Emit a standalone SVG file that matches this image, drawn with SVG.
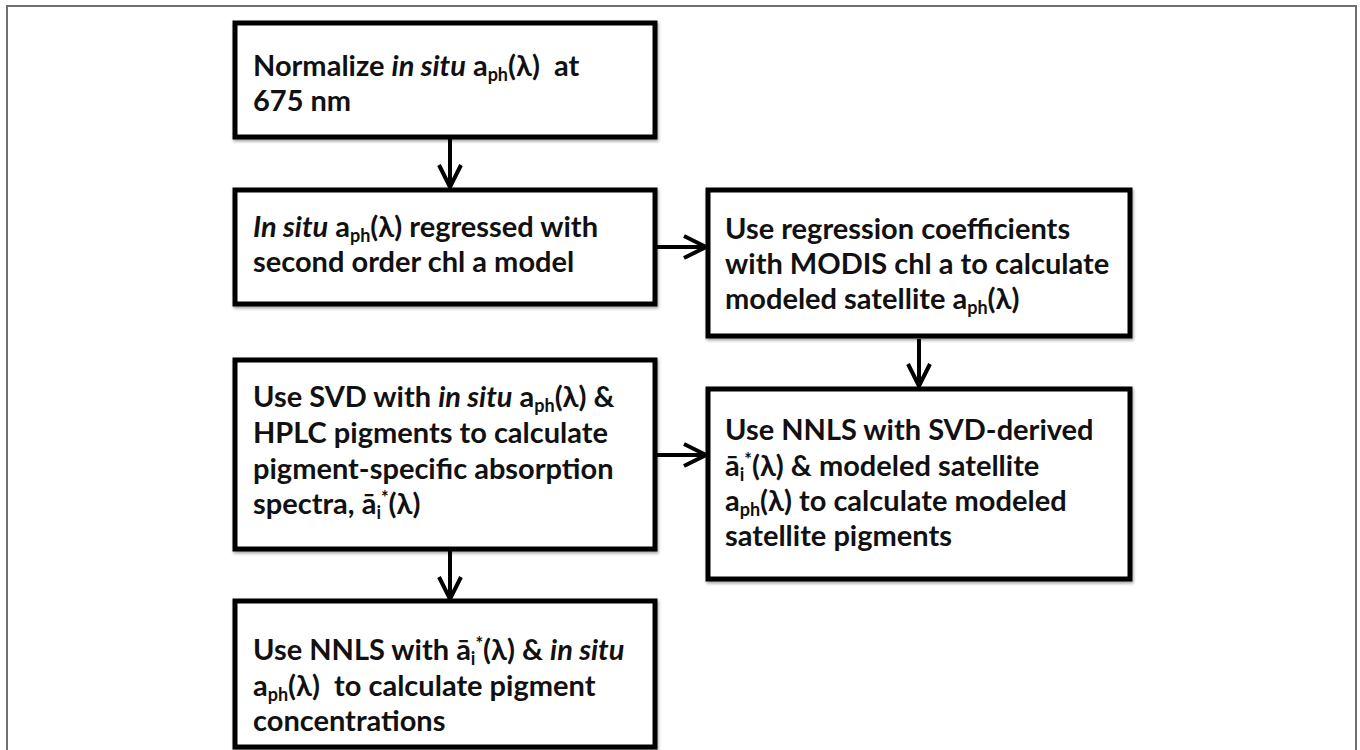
<svg xmlns="http://www.w3.org/2000/svg" width="1360" height="750" viewBox="0 0 1360 750">
<style>
.box{fill:#fff;stroke:#000;stroke-width:5;filter:url(#sh)}
.t{font-family:Lato,"Liberation Sans",sans-serif;font-weight:700;font-size:29px;fill:#111;white-space:pre}
.sub{font-size:18px}
.it{font-style:italic}
.con{stroke:#000;stroke-width:4;fill:none}
</style>
<defs>
<filter id="sh" x="-5%" y="-5%" width="110%" height="115%">
<feDropShadow dx="1" dy="2" stdDeviation="1.5" flood-color="#000" flood-opacity="0.35"/>
</filter>
<marker id="ah" markerUnits="userSpaceOnUse" markerWidth="30" markerHeight="30" viewBox="0 0 30 30" refX="26" refY="15" orient="auto">
<path d="M4,4 L26,15 L4,26" fill="none" stroke="#000" stroke-width="4" stroke-linejoin="miter"/>
</marker>
</defs>
<rect x="0" y="0" width="1360" height="750" fill="#fff"/>
<rect x="7" y="6" width="1349" height="770" fill="none" stroke="#707070" stroke-width="2"/>

<g id="connectors">
<line class="con" x1="450" y1="139" x2="450" y2="187" marker-end="url(#ah)"/>
<line class="con" x1="657" y1="247" x2="706" y2="247" marker-end="url(#ah)"/>
<line class="con" x1="919" y1="339" x2="919" y2="386" marker-end="url(#ah)"/>
<line class="con" x1="657" y1="455" x2="706" y2="455" marker-end="url(#ah)"/>
<line class="con" x1="450" y1="551" x2="450" y2="599" marker-end="url(#ah)"/>
</g>

<g id="n1">
<rect class="box" x="235" y="23" width="420" height="114"/>
<text class="t" x="253" y="76">Normalize <tspan class="it">in situ</tspan> a<tspan class="sub" dy="5">ph</tspan><tspan dy="-5">(λ)  at</tspan></text>
<text class="t" x="253" y="111">675 nm</text>
</g>

<g id="n2">
<rect class="box" x="235" y="190" width="420" height="114"/>
<text class="t" x="253" y="237"><tspan class="it">In situ</tspan> a<tspan class="sub" dy="5">ph</tspan><tspan dy="-5">(λ) regressed with</tspan></text>
<text class="t" x="253" y="272">second order chl a model</text>
</g>

<g id="n3">
<rect class="box" x="708" y="190" width="422" height="146"/>
<text class="t" x="725" y="239">Use regression coefficients</text>
<text class="t" x="725" y="274">with MODIS chl a to calculate</text>
<text class="t" x="725" y="309">modeled satellite a<tspan class="sub" dy="5">ph</tspan><tspan dy="-5">(λ)</tspan></text>
</g>

<g id="n4">
<rect class="box" x="235" y="360" width="420" height="189"/>
<text class="t" x="253" y="407">Use SVD with <tspan class="it">in situ</tspan> a<tspan class="sub" dy="5">ph</tspan><tspan dy="-5">(λ) &amp;</tspan></text>
<text class="t" x="253" y="443">HPLC pigments to calculate</text>
<text class="t" x="253" y="479">pigment-specific absorption</text>
<text class="t" x="253" y="514">spectra, ā<tspan class="sub" dy="5">i</tspan><tspan class="sub" dy="-15">*</tspan><tspan dy="10">(λ)</tspan></text>
</g>

<g id="n5">
<rect class="box" x="708" y="389" width="422" height="190"/>
<text class="t" x="725" y="440">Use NNLS with SVD-derived</text>
<text class="t" x="725" y="476">ā<tspan class="sub" dy="5">i</tspan><tspan class="sub" dy="-15">*</tspan><tspan dy="10">(λ) &amp; modeled satellite</tspan></text>
<text class="t" x="725" y="511">a<tspan class="sub" dy="5">ph</tspan><tspan dy="-5">(λ) to calculate modeled</tspan></text>
<text class="t" x="725" y="546">satellite pigments</text>
</g>

<g id="n6">
<rect class="box" x="235" y="601" width="420" height="146"/>
<text class="t" x="253" y="660">Use NNLS with ā<tspan class="sub" dy="5">i</tspan><tspan class="sub" dy="-15">*</tspan><tspan dy="10">(λ) &amp; </tspan><tspan class="it">in situ</tspan></text>
<text class="t" x="253" y="696">a<tspan class="sub" dy="5">ph</tspan><tspan dy="-5">(λ)  to calculate pigment</tspan></text>
<text class="t" x="253" y="731">concentrations</text>
</g>
</svg>
